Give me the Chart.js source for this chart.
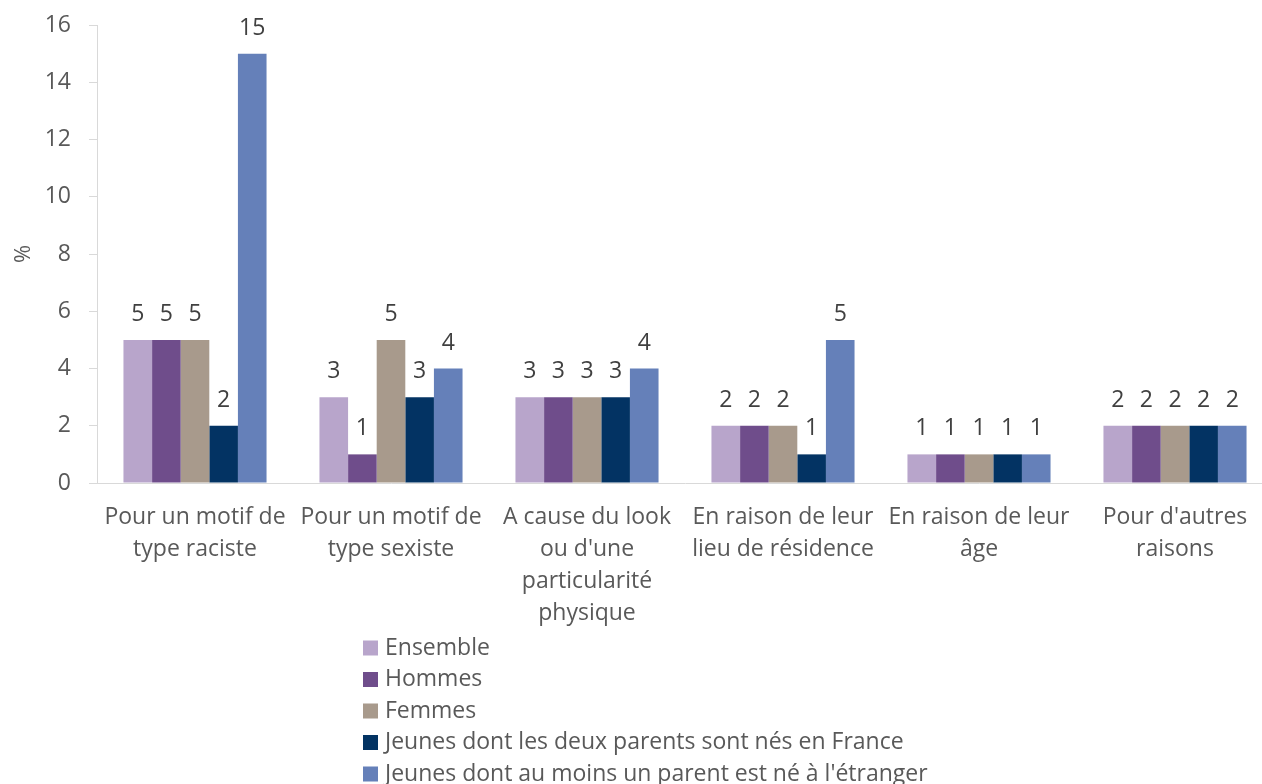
<!DOCTYPE html>
<html lang="fr">
<head>
<meta charset="utf-8">
<title>Motifs</title>
<script src="https://cdn.jsdelivr.net/npm/chart.js@4"></script>
<style>
  html, body { margin: 0; padding: 0; background: #fff; overflow: hidden; }
  .chart-box { width: 1273px; height: 784px; position: relative; }
</style>
</head>
<body>
<div class="chart-box"><canvas id="motifsChart"></canvas></div>
<script>
// Catégories (libellés sur plusieurs lignes comme dans l'original)
const categories = [
    ['Pour un motif de', 'type raciste'],
    ['Pour un motif de', 'type sexiste'],
    ['A cause du look', "ou d'une", 'particularité', 'physique'],
    ['En raison de leur', 'lieu de résidence'],
    ['En raison de leur', 'âge'],
    ["Pour d'autres", 'raisons']
];
const seriesNames = [
    'Ensemble',
    'Hommes',
    'Femmes',
    'Jeunes dont les deux parents sont nés en France',
    "Jeunes dont au moins un parent est né à l'étranger"
];
const ensemble = [5, 3, 3, 2, 1, 2];
const hommes = [5, 1, 3, 2, 1, 2];
const femmes = [5, 5, 3, 2, 1, 2];
const parentsFrance = [2, 3, 3, 1, 1, 2];
const parentEtranger = [15, 4, 4, 5, 1, 2];
const yTicks = [0, 2, 4, 6, 8, 10, 12, 14, 16];

const colors = ['#B8A5CB', '#6F4D8B', '#A89A8C', '#033363', '#6580B9'];
const FONT = '"Open Sans", sans-serif';
const TEXT = '#595959';

// Etiquettes de valeur au-dessus des barres
const valueLabels = {
    id: 'valueLabels',
    afterDatasetsDraw(chart) {
        const ctx = chart.ctx;
        ctx.save();
        ctx.font = '23px ' + FONT;
        ctx.fillStyle = '#404040';
        ctx.textAlign = 'center';
        ctx.textBaseline = 'alphabetic';
        chart.data.datasets.forEach((ds, i) => {
            chart.getDatasetMeta(i).data.forEach((bar, j) => {
                ctx.fillText(ds.data[j], bar.x, bar.y - 19);
            });
        });
        ctx.restore();
    }
};

// Légende verticale sous le graphique
const stackedLegend = {
    id: 'stackedLegend',
    afterDraw(chart) {
        const ctx = chart.ctx;
        ctx.save();
        ctx.font = '23px ' + FONT;
        ctx.textBaseline = 'middle';
        ctx.textAlign = 'left';
        chart.data.datasets.forEach((ds, i) => {
            const y = 648 + i * 31.5;
            ctx.fillStyle = ds.backgroundColor;
            ctx.fillRect(363, y - 7.5, 15, 15);
            ctx.fillStyle = TEXT;
            ctx.fillText(ds.label, 385, y);
        });
        ctx.restore();
    }
};

const series = [ensemble, hommes, femmes, parentsFrance, parentEtranger];

const ctx = document.getElementById('motifsChart').getContext('2d');
const motifsChart = new Chart(ctx, {
    type: 'bar',
    data: {
        labels: categories,
        datasets: series.map((vals, i) => ({
            label: seriesNames[i],
            data: vals,
            backgroundColor: colors[i],
            borderWidth: 0,
            categoryPercentage: 0.73,
            barPercentage: 1
        }))
    },
    options: {
        responsive: true,
        maintainAspectRatio: false,
        animation: false,
        layout: { padding: { top: 25, right: 0, bottom: 137, left: 0 } },
        scales: {
            y: {
                min: 0,
                max: 16,
                afterBuildTicks(scale) {
                    scale.ticks = yTicks.map(v => ({ value: v }));
                },
                afterFit(scale) {
                    scale.width = 97;
                    scale.paddingTop = 0;
                    scale.paddingBottom = 0;
                },
                ticks: {
                    color: TEXT,
                    padding: 18,
                    font: { family: FONT, size: 23 }
                },
                grid: {
                    drawOnChartArea: false,
                    drawTicks: true,
                    tickLength: 8,
                    color: '#D9D9D9'
                },
                border: { display: true, color: '#D9D9D9' },
                title: {
                    display: true,
                    text: '%',
                    color: TEXT,
                    padding: { top: 11, bottom: 0 },
                    font: { family: FONT, size: 22 }
                }
            },
            x: {
                grid: { display: false, drawTicks: false },
                border: { display: true, color: '#D9D9D9' },
                ticks: {
                    color: TEXT,
                    padding: 18,
                    maxRotation: 0,
                    autoSkip: false,
                    font: { family: FONT, size: 23, lineHeight: '32px' }
                }
            }
        },
        plugins: {
            legend: { display: false },
            tooltip: { enabled: false }
        }
    },
    plugins: [valueLabels, stackedLegend]
});
</script>
</body>
</html>
